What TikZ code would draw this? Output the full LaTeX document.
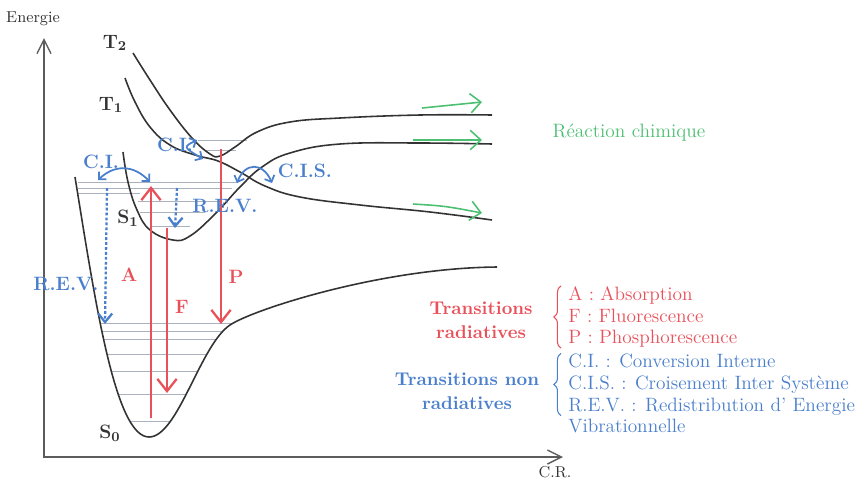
\documentclass[tikz,border=0pt]{standalone}
\usetikzlibrary{arrows.meta,positioning,decorations.pathreplacing}
\definecolor{jbred}{HTML}{E8505A}
\definecolor{jbblue}{HTML}{4A7FCC}
\definecolor{jbgreen}{HTML}{4DBF72}
\definecolor{jblevel}{HTML}{A9B2BE}
\definecolor{jbcurve}{HTML}{333333}
\newcommand{\groundpath}{(75,177) .. controls (95,300) and (115,437) .. (149,437) .. controls (178,437) and (200,345) .. (230,325) .. controls (252,310) and (380,268) .. (497,267)}

\begin{document}
\begin{tikzpicture}[x=0.02cm, y=-0.02cm,
    curve/.style={draw=jbcurve, line width=0.9pt},
    level/.style={draw=jblevel, line width=0.5pt},
    axis/.style={draw=jbcurve!80, line width=0.8pt, {Straight Barb[length=8pt,width=8pt]}-{Straight Barb[length=8pt,width=8pt]}},
    radiative/.style={draw=jbred, line width=1.3pt, -{Straight Barb[length=7pt,width=11pt]}},
    rev/.style={draw=jbblue, line width=1.3pt, dash pattern=on 1.6pt off 1.2pt, -{Straight Barb[length=5pt,width=8pt]}},
    ci/.style={draw=jbblue, line width=1pt, {Straight Barb[length=3pt,width=6pt]}-{Straight Barb[length=3pt,width=6pt]}},
    react/.style={draw=jbgreen, line width=0.9pt, -{Straight Barb[length=6pt,width=11pt]}},
    state/.style={text=jbcurve, font=\bfseries\fontsize{11}{13}\selectfont, inner sep=0pt},
    bluelab/.style={text=jbblue, font=\bfseries\fontsize{11}{13}\selectfont, inner sep=0pt},
    redlab/.style={text=jbred, font=\bfseries\fontsize{11}{13}\selectfont, inner sep=0pt},
    title/.style={font=\bfseries\fontsize{10.5}{13.5}\selectfont, align=center, inner sep=0pt},
    legitem/.style={font=\fontsize{11}{12.5}\selectfont, align=left, inner sep=0pt},
    bracket/.style={decorate, decoration={brace, amplitude=4pt, mirror}, line width=0.6pt}]
  \useasboundingbox (0,0) rectangle (861,481);

  % Axes
  \coordinate (origin) at (44,457);
  \coordinate (ytip) at (44,38);
  \coordinate (xtip) at (563,457);
  \draw[axis] (ytip) -- (origin) -- (xtip);
  \node[font=\fontsize{9}{11}\selectfont, text=jbcurve] (energy) at (33,19) {Energie};
  \node[font=\fontsize{9}{11}\selectfont, text=jbcurve] (cr) at (555,472) {C.R.};

  % Vibrational levels of S0
  \begin{scope}
    \clip \groundpath -- cycle;
    \foreach \lev in {323,331,339,354,371,394,421}
      \draw[level] (60,\lev) -- (300,\lev);
  \end{scope}

  % Upper levels (S0 high, S1, T2)
  \draw[level] (78,182) -- (238,182);
  \draw[level] (78,188) -- (232,188);
  \draw[level] (78,193) -- (140,193);
  \draw[level] (138,201) -- (222,201);
  \draw[level] (140,212) -- (205,212);
  \draw[level] (152,226) -- (190,226);
  \draw[level] (198,140) -- (247,140);
  \draw[level] (206,150) -- (236,150);

  % Potential curves
  \draw[curve] \groundpath;
  \draw[curve] plot[smooth, tension=0.7] coordinates {(123,152) (128,182) (137,210) (150,230) (173,240) (190,236) (215,214) (240,187) (262,167) (290,153) (340,144) (420,143) (492,144)};
  \draw[curve] plot[smooth, tension=0.7] coordinates {(133,53) (150,80) (170,110) (192,138) (210,154) (220,156) (235,147) (257,132) (290,122) (340,118) (420,115) (492,115)};
  \draw[curve] plot[smooth, tension=0.7] coordinates {(125,78) (135,102) (150,127) (170,145) (195,155) (218,161) (240,172) (265,186) (300,197) (360,205) (430,212) (492,220)};

  % State labels
  \node[state] (T2) at (115,43) {T\textsubscript{2}};
  \node[state] (T1) at (111,105) {T\textsubscript{1}};
  \node[state] (S1) at (128,218) {S\textsubscript{1}};
  \node[state] (S0) at (110,433) {S\textsubscript{0}};

  % Radiative transitions
  \coordinate (A0) at (151,418);
  \coordinate (A1) at (151,186);
  \coordinate (F0) at (167,228);
  \coordinate (F1) at (167,393);
  \coordinate (P0) at (221,149);
  \coordinate (P1) at (221,324);
  \draw[radiative] (A0) -- (A1);
  \draw[radiative] (F0) -- (F1);
  \draw[radiative] (P0) -- (P1);
  \node[redlab] (Alab) at (129,275) {A};
  \node[redlab] (Flab) at (182,307) {F};
  \node[redlab] (Plab) at (236,277) {P};

  % Non radiative transitions
  \coordinate (ciL0) at (98,180);
  \coordinate (ciL1) at (150,182);
  \coordinate (ciU0) at (197,140);
  \coordinate (ciU1) at (203,159);
  \coordinate (cis0) at (237,183);
  \coordinate (cis1) at (272,183);
  \draw[ci] (ciL0) .. controls (115,164) and (134,165) .. (ciL1);
  \draw[ci] (ciU0) .. controls (183,147) .. (ciU1);
  \draw[ci] (cis0) .. controls (245,162) and (263,162) .. (cis1);
  \coordinate (revL0) at (107,188);
  \coordinate (revL1) at (105,324);
  \coordinate (revM0) at (177,188);
  \coordinate (revM1) at (175,228);
  \draw[rev] (revL0) -- (revL1);
  \draw[rev] (revM0) -- (revM1);
  \node[bluelab] (ciLlab) at (101,162) {C.I.};
  \node[bluelab] (ciUlab) at (175,145) {C.I.};
  \node[bluelab] (cislab) at (305,171) {C.I.S.};
  \node[bluelab] (revMlab) at (225,206) {R.E.V.};
  \node[bluelab] (revLlab) at (66,284) {R.E.V.};

  % Chemical reaction
  \coordinate (r10) at (422,108);
  \coordinate (r11) at (482,102);
  \coordinate (r20) at (413,140);
  \coordinate (r21) at (482,140);
  \coordinate (r30) at (413,204);
  \coordinate (r31) at (482,213);
  \draw[react] (r10) -- (r11);
  \draw[react] (r20) -- (r21);
  \draw[react] (r30) .. controls (445,206) .. (r31);
  \node[text=jbgreen, font=\fontsize{11}{13}\selectfont] (reaction) at (629,133) {Réaction chimique};

  % Legend
  \node[title, text=jbred] (radtitle) at (481,320) {Transitions\\radiatives};
  \node[title, text=jbblue] (nonradtitle) at (467,391) {Transitions non\\radiatives};
  \node[legitem, text=jbred, anchor=west] (radlist) at (568,317) {A : Absorption\\F : Fluorescence\\P : Phosphorescence};
  \node[legitem, text=jbblue, below=3pt of radlist.south west, anchor=north west] (nonradlist) {C.I. : Conversion Interne\\C.I.S. : Croisement Inter Système\\R.E.V. : Redistribution d' Energie};
  \node[legitem, text=jbblue, below=2pt of nonradlist.south west, anchor=north west] (vibr) {Vibrationnelle};
  \draw[bracket, jbred] ([xshift=-4pt]radlist.north west) -- ([xshift=-4pt]radlist.south west);
  \draw[bracket, jbblue] ([xshift=-4pt]nonradlist.north west) -- ([xshift=-4pt]nonradlist.south west);
\end{tikzpicture}
\end{document}
